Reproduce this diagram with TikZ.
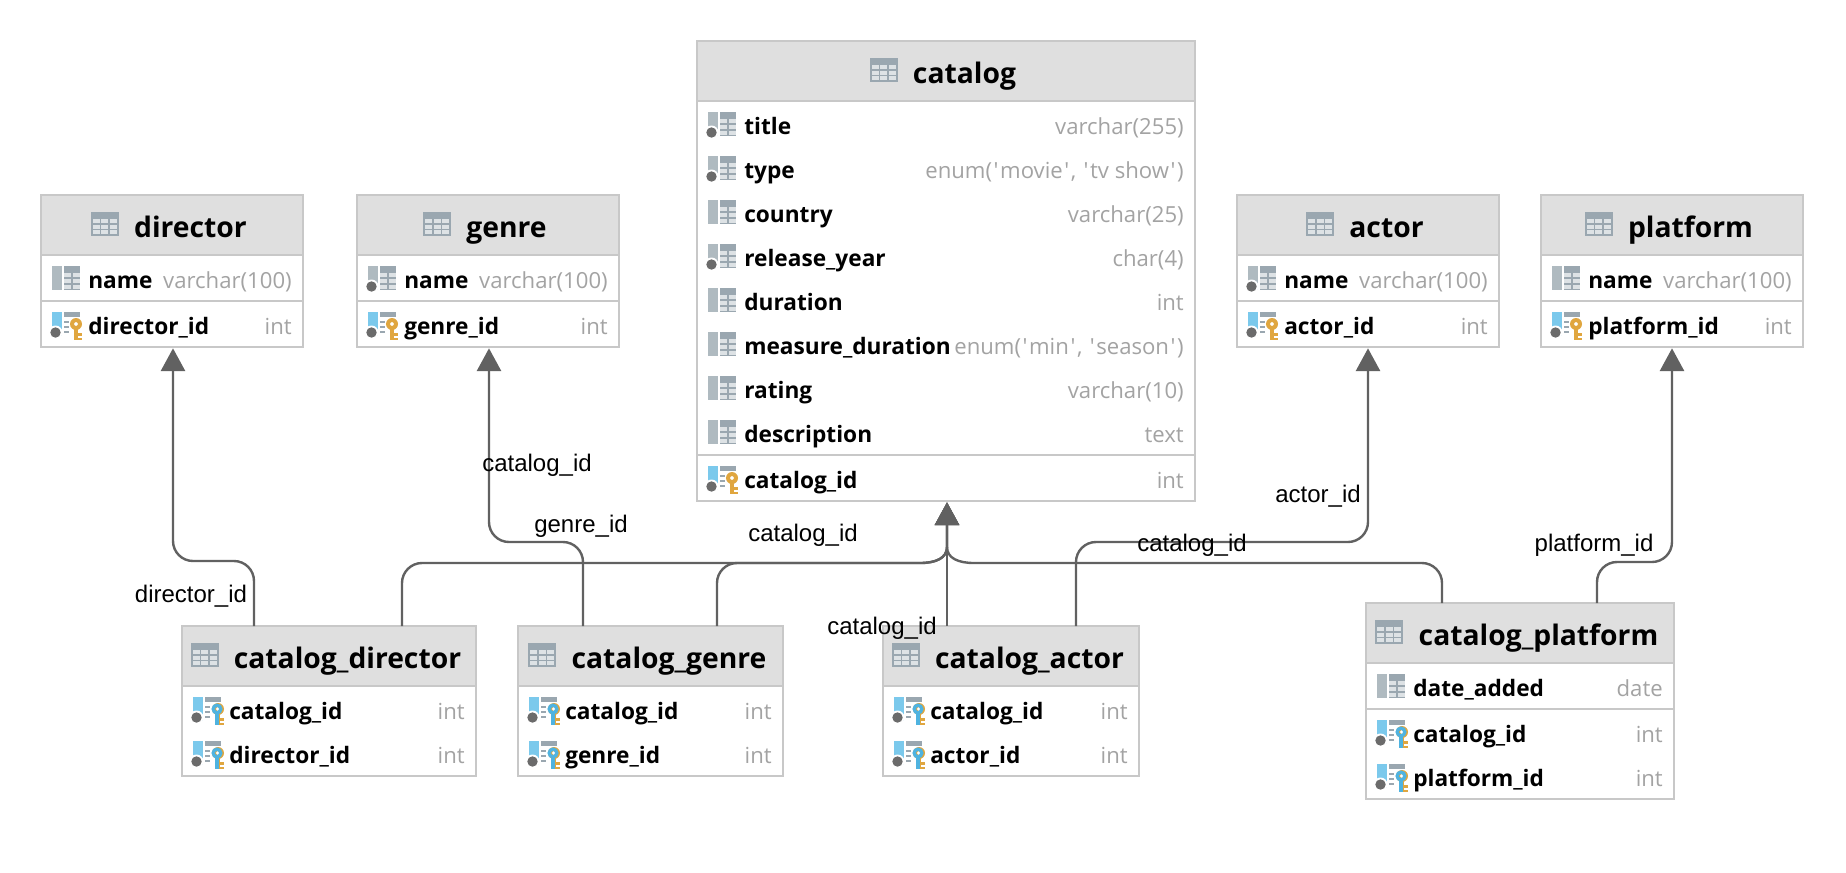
\documentclass[tikz,border=0pt]{standalone}
\usepackage{fontspec}
\usetikzlibrary{arrows.meta}
\newfontfamily\uifont{Open Sans}
\newfontfamily\lblfont{Liberation Sans}
\definecolor{hdr}{HTML}{DFDFDF}
\definecolor{edge}{HTML}{C8C8C8}
\definecolor{conncol}{HTML}{616161}
\definecolor{slate}{HTML}{9AA7B0}
\definecolor{slatel}{HTML}{AFBAC0}
\definecolor{cell}{HTML}{DDE2E5}
\definecolor{dotc}{HTML}{6B6B6B}
\definecolor{typec}{HTML}{A3A3A3}
\definecolor{skyb}{HTML}{7BC9EC}
\definecolor{keyo}{HTML}{E0A63F}
\definecolor{keyb}{HTML}{4FB3E0}
\tikzset{
  x=0.75pt,y=-0.75pt,
  tbl/.style={draw=edge,line width=1.15pt,fill=white,inner sep=0pt,outer sep=0pt},
  ttl/.style={anchor=base,inner sep=0pt,font=\uifont\bfseries\fontsize{21.2pt}{24pt}\selectfont},
  fld/.style={anchor=base west,inner sep=0pt,font=\uifont\bfseries\fontsize{17pt}{20pt}\selectfont},
  typ/.style={anchor=base east,inner sep=0pt,text=typec,font=\uifont\fontsize{16.6pt}{20pt}\selectfont},
  lbl/.style={inner sep=0pt,font=\lblfont\fontsize{18pt}{21pt}\selectfont},
  conn/.style={draw=conncol,line width=1.8pt,rounded corners=15pt,shorten >=1pt,
    -{Triangle[width=18pt,length=17pt]}},
  connj/.style={draw=conncol,line width=1.8pt,shorten >=1pt,
    -{Triangle[width=18pt,length=17pt]}},
}
\newcommand{\gridglyph}[2]{%
  \begin{scope}[shift={(#1,#2)}]
    \fill[slate] (0,0) rectangle (28,24);
    \foreach \cx in {2,10.5,19} \foreach \cy in {7,12.5,18}
      \fill[cell] (\cx,\cy) rectangle ++(7,4);
  \end{scope}}
\newcommand{\colglyph}[3]{%
  \begin{scope}[shift={(#1,#2)}]
    \fill[slatel] (0,0) rectangle (10,24);
    \fill[slate] (12,0) rectangle (28,24);
    \foreach \cy in {7,13,19} {\fill[cell] (12,\cy) rectangle ++(7,4);\fill[cell] (21,\cy) rectangle ++(7,4);}
    \ifnum#3=1
      \fill[white] (3.5,20.5) circle (7);
      \fill[dotc] (3.5,20.5) circle (5.2);
    \fi
  \end{scope}}
\newcommand{\keyshape}[2]{%
  \fill[#2,even odd rule] (24+#1,12) circle (6) (24+#1,12) circle (2);
  \fill[#2] (22.2+#1,16) rectangle (25.6+#1,28);
  \fill[#2] (25.6+#1,21) rectangle (30+#1,24);
  \fill[#2] (25.6+#1,25.5) rectangle (30+#1,28);}
\newcommand{\keyglyph}[3]{%
  \begin{scope}[shift={(#1,#2)}]
    \fill[skyb] (0,0) rectangle (10,24);
    \fill[slate] (12,0) rectangle (28,5);
    \foreach \cy in {9,14,19} \fill[slate] (12,\cy) rectangle ++(6,2);
    \fill[white] (17,5) rectangle (31,29);
    \fill[white] (3.5,20.5) circle (7);
    \fill[dotc] (3.5,20.5) circle (5.2);
    \ifnum#3=1
      \keyshape{1}{keyo}
      \fill[keyb,even odd rule] (24,12) circle (5.6) (24,12) circle (2);
      \fill[keyb] (22.2,16) rectangle (25.6,28);
    \else
      \keyshape{0}{keyo}
    \fi
  \end{scope}}
\newcommand{\dbtable}[7]{%
  \def\tXa{#2}\def\tXb{#4}\def\tId{#1}%
  \node[tbl,minimum width={(#4-#2)*0.75pt},minimum height={(#5-#3)*0.75pt}] (#1) at ({(#2+#4)/2},{(#3+#5)/2}) {};
  \fill[hdr] (#2+1,#3+1) rectangle (#4-1,#6);
  \draw[edge,line width=1.5pt] (#2,#6) -- (#4,#6);
  \node[ttl] (#1-title) at ({(#2+#4)/2+18.5},#3+42) {#7};
  \begin{scope}[shift={(#1-title.base west)}]\gridglyph{-43}{-25}\end{scope}}
\newcommand{\dbrow}[5]{%
  \if#3c\colglyph{\tXa+11}{#2-14}{0}\fi
  \if#3n\colglyph{\tXa+11}{#2-14}{1}\fi
  \if#3k\keyglyph{\tXa+11}{#2-14}{0}\fi
  \if#3f\keyglyph{\tXa+11}{#2-14}{1}\fi
  \node[fld] (\tId-#1) at (\tXa+47,#2+8) {#4};
  \node[typ] (\tId-#1-t) at (\tXb-11,#2+8) {#5};}
\newcommand{\dbsep}[1]{\draw[edge,line width=1.5pt] (\tXa,#1) -- (\tXb,#1);}
\newcommand{\qo}{\kern1.2pt'\kern1.2pt\relax}
\newcommand{\qc}{\kern1.2pt'\kern1.2pt\relax}
\begin{document}
\begin{tikzpicture}
\useasboundingbox (0,0) rectangle (1846,872);

\dbtable{catalog}{697}{41}{1195}{501}{101}{catalog}
\dbrow{title}{126}{n}{title}{varchar(255)}
\dbrow{type}{170}{n}{type}{enum(\qo movie\qc, \qo tv show\qc)}
\dbrow{country}{214}{c}{country}{varchar(25)}
\dbrow{year}{258}{n}{release\_year}{char(4)}
\dbrow{dur}{302}{c}{duration}{int}
\dbrow{mdur}{346}{c}{measure\_duration}{enum(\qo min\qc, \qo season\qc)}
\dbrow{rating}{390}{c}{rating}{varchar(10)}
\dbrow{desc}{434}{c}{description}{text}
\dbsep{455}
\dbrow{id}{480}{k}{catalog\_id}{int}

\dbtable{director}{41}{195}{303}{347}{255}{director}
\dbrow{name}{280}{c}{name}{varchar(100)}
\dbsep{301}
\dbrow{id}{326}{k}{director\_id}{int}

\dbtable{genre}{357}{195}{619}{347}{255}{genre}
\dbrow{name}{280}{n}{name}{varchar(100)}
\dbsep{301}
\dbrow{id}{326}{k}{genre\_id}{int}

\dbtable{actor}{1237}{195}{1499}{347}{255}{actor}
\dbrow{name}{280}{n}{name}{varchar(100)}
\dbsep{301}
\dbrow{id}{326}{k}{actor\_id}{int}

\dbtable{platform}{1541}{195}{1803}{347}{255}{platform}
\dbrow{name}{280}{c}{name}{varchar(100)}
\dbsep{301}
\dbrow{id}{326}{k}{platform\_id}{int}

\dbtable{cdirector}{182}{626}{476}{776}{686}{catalog\_director}
\dbrow{cid}{711}{f}{catalog\_id}{int}
\dbrow{did}{755}{f}{director\_id}{int}

\dbtable{cgenre}{518}{626}{783}{776}{686}{catalog\_genre}
\dbrow{cid}{711}{f}{catalog\_id}{int}
\dbrow{gid}{755}{f}{genre\_id}{int}

\dbtable{cactor}{883}{626}{1139}{776}{686}{catalog\_actor}
\dbrow{cid}{711}{f}{catalog\_id}{int}
\dbrow{aid}{755}{f}{actor\_id}{int}

\dbtable{cplatform}{1366}{603}{1674}{799}{663}{catalog\_platform}
\dbrow{date}{688}{c}{date\_added}{date}
\dbsep{709}
\dbrow{cid}{734}{f}{catalog\_id}{int}
\dbrow{pid}{778}{f}{platform\_id}{int}

% connectors
\draw[conn] (cdirector.north -| 254,0) -- (254,561) -- (173,561) -- (director.south -| 173,0);
\draw[conn] (cgenre.north -| 583,0) -- (583,542) -- (489,542) -- (genre.south -| 489,0);
\draw[conn] (cactor.north -| 1076,0) -- (1076,542) -- (1368,542) -- (actor.south -| 1368,0);
\draw[conn] (cplatform.north -| 1597,0) -- (1597,562) -- (1672,562) -- (platform.south -| 1672,0);
\draw[connj] (cdirector.north -| 402,0) -- (402,583) .. controls (402,572) and (411,563) .. (422,563) -- (920,563) .. controls (936,563) and (947,558) .. (947,547) -- (catalog.south -| 947,0);
\draw[connj] (cgenre.north -| 717,0) -- (717,583) .. controls (717,572) and (726,563) .. (737,563) -- (920,563) .. controls (936,563) and (947,558) .. (947,547) -- (catalog.south -| 947,0);
\draw[connj] (cplatform.north -| 1442,0) -- (1442,583) .. controls (1442,572) and (1433,563) .. (1422,563) -- (974,563) .. controls (958,563) and (947,558) .. (947,547) -- (catalog.south -| 947,0);
\draw[connj] (cactor.north -| 947,0) -- (catalog.south -| 947,0);

% connector labels
\node[lbl] (l1) at (191,596) {director\_id};
\node[lbl] (l2) at (537,465) {catalog\_id};
\node[lbl] (l3) at (581,526) {genre\_id};
\node[lbl] (l4) at (803,535) {catalog\_id};
\node[lbl] (l5) at (882,628) {catalog\_id};
\node[lbl] (l6) at (1192,545) {catalog\_id};
\node[lbl] (l7) at (1318,496) {actor\_id};
\node[lbl] (l8) at (1594,545) {platform\_id};
\end{tikzpicture}
\end{document}
